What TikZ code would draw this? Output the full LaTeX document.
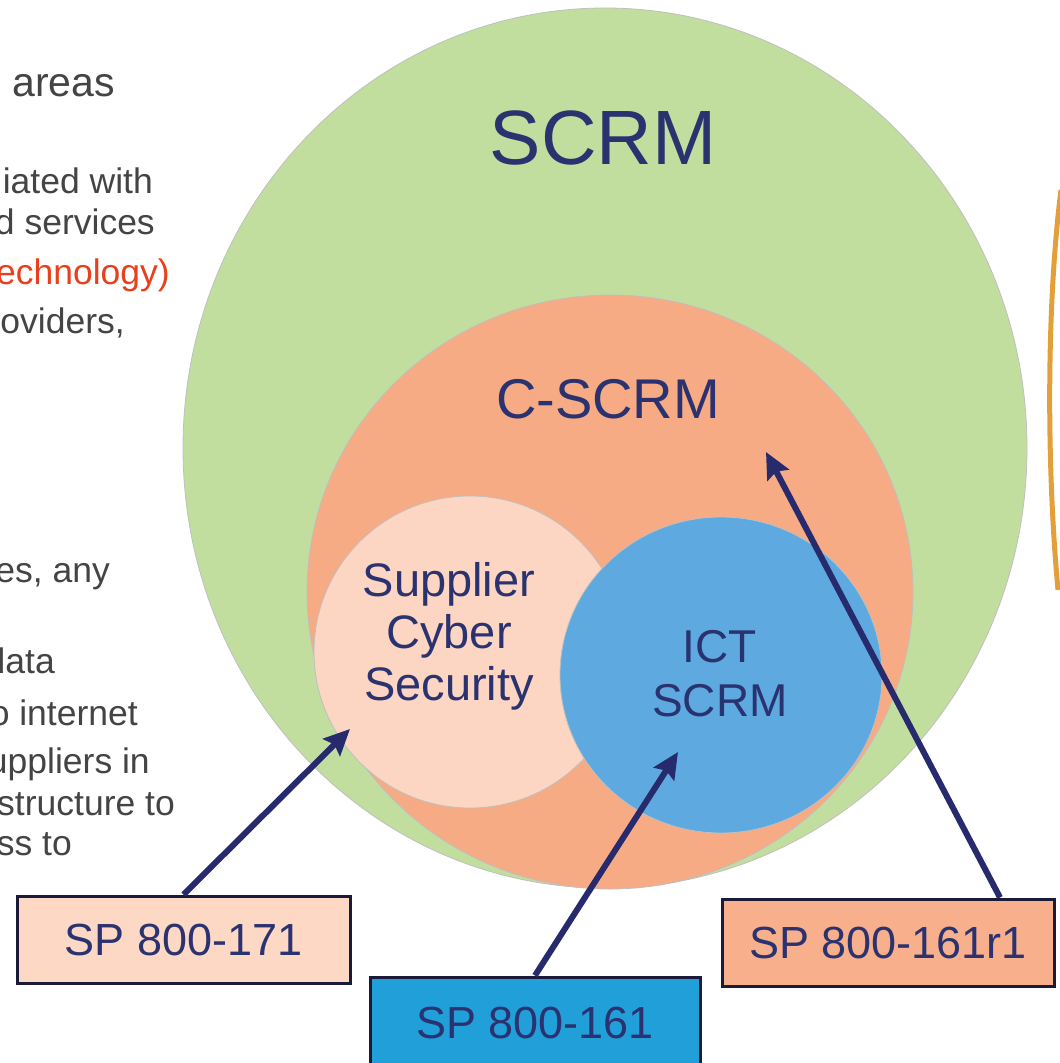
\documentclass[tikz,border=0pt]{standalone}
\usepackage{fontspec}
\setmainfont{Liberation Sans}
\usetikzlibrary{arrows.meta}
\definecolor{scrmgreen}{HTML}{C2DE9E}
\definecolor{cscrmorange}{HTML}{F7AB85}
\definecolor{supplierpeach}{HTML}{FCD6C3}
\definecolor{ictblue}{HTML}{5DA9E0}
\definecolor{boxpeach}{HTML}{FDD8C5}
\definecolor{boxblue}{HTML}{219FD9}
\definecolor{boxorange}{HTML}{F8AF8C}
\definecolor{labelnavy}{HTML}{2A3270}
\definecolor{arrownavy}{HTML}{272B6E}
\definecolor{boxline}{HTML}{1A1A3A}
\definecolor{sidegray}{HTML}{444444}
\definecolor{sidered}{HTML}{E8401C}
\definecolor{goldrim}{HTML}{E3A03A}
\begin{document}
\begin{tikzpicture}[x=1pt,y=-1pt,
  ring/.style={draw=black!25,line width=0.8pt},
  lbl/.style={text=labelnavy,inner sep=0pt,align=center},
  spbox/.style={draw=boxline,line width=3pt,text=labelnavy,inner sep=0pt,
    minimum height=87pt,font=\fontsize{45}{54}\selectfont},
  ptr/.style={draw=arrownavy,line width=6pt,-{Stealth[length=26pt,width=24pt,inset=4pt]}},
  side/.style={text=sidegray,anchor=base east,inner sep=0pt,font=\fontsize{35.5}{40}\selectfont}]
	\useasboundingbox (0,0) rectangle (1060,1063);
	\clip (0,0) rectangle (1060,1063);
	% cut-off slide text on the left
	\node[side,font=\fontsize{41}{48}\selectfont] (s1) at (115,96) {areas};
	\node[side] (s2) at (153,193) {iated with};
	\node[side] (s3) at (155,234) {d services};
	\node[side,text=sidered] (s4) at (170,284) {echnology)};
	\node[side] (s5) at (125,333) {oviders,};
	\node[side] (s6) at (110,582) {es, any};
	\node[side] (s7) at (55,673) {data};
	\node[side] (s8) at (138,725) {o internet};
	\node[side] (s9) at (150,773) {uppliers in};
	\node[side] (s10) at (175,815) {structure to};
	\node[side] (s11) at (72,855) {ss to};
	% edge of the next picture
	\draw[goldrim,line width=5pt] (1061,190) .. controls (1047,300) and (1046,460) .. (1058,590);
	% nested areas
	\filldraw[ring,fill=scrmgreen] (605,448) ellipse [x radius=422, y radius=440];
	\filldraw[ring,fill=cscrmorange] (610,592) ellipse [x radius=303, y radius=297];
	\filldraw[ring,fill=supplierpeach] (470,652) circle [radius=156];
	\filldraw[ring,fill=ictblue] (721,675) ellipse [x radius=161, y radius=158];
	\node[lbl,font=\fontsize{77}{80}\selectfont] (scrm) at (603,138) {SCRM};
	\node[lbl,font=\fontsize{56}{60}\selectfont] (cscrm) at (608,399) {C-SCRM};
	\node[lbl,font=\fontsize{47}{52}\selectfont] (supplier) at (449,636) {Supplier\\Cyber\\Security};
	\node[lbl,font=\fontsize{46}{54}\selectfont] (ict) at (720,674) {ICT\\SCRM};
	% publications
	\node[spbox,fill=boxpeach,minimum width=333pt] (sp171) at (183.5,939.5) {SP 800-171};
	\node[spbox,fill=boxblue,minimum width=330pt,minimum height=92pt] (sp161) at (535,1023) {SP 800-161};
	\node[spbox,fill=boxorange,minimum width=332pt] (sp161r1) at (888,942.5) {SP 800-161r1};
	\coordinate (tip171) at (350,729);
	\coordinate (tip161) at (678,752);
	\coordinate (tip161r1) at (766,452);
	\draw[ptr] (sp171.north) -- (tip171);
	\draw[ptr] (sp161.north) -- (tip161);
	\draw[ptr] ([xshift=112pt]sp161r1.north) -- (tip161r1);
\end{tikzpicture}
\end{document}
